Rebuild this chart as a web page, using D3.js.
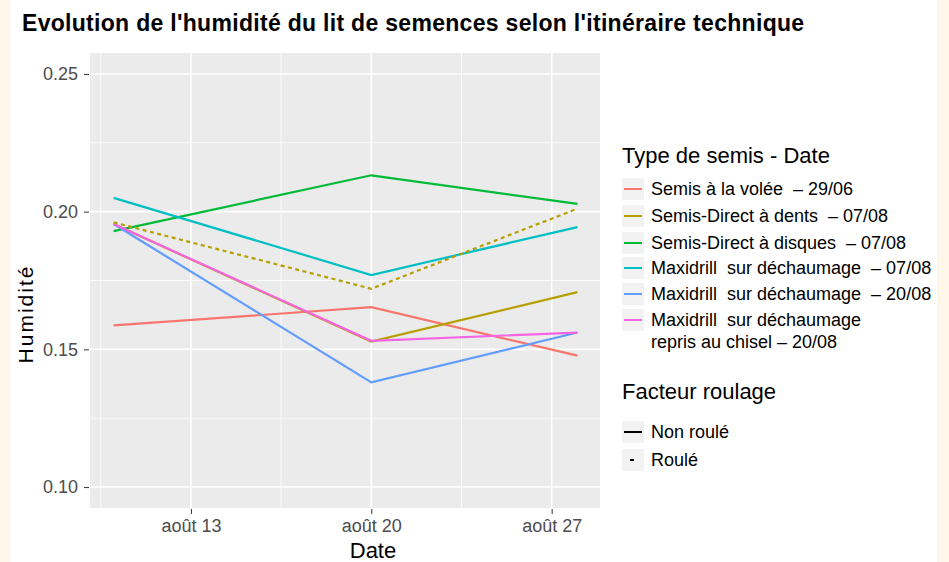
<!DOCTYPE html>
<html>
<head>
<meta charset="utf-8">
<script src="https://d3js.org/d3.v7.min.js"></script>
<style>
  body { margin: 0; background: #fff; }
  svg { display: block; font-family: "Liberation Sans", Arial, sans-serif; }
</style>
</head>
<body>
<svg></svg>
<script>
// data
var dates = ["2021-08-10", "2021-08-20", "2021-08-28"];
var seriesNames = [
  "Semis à la volée  – 29/06",
  "Semis-Direct à dents  – 07/08",
  "Semis-Direct à disques  – 07/08",
  "Maxidrill  sur déchaumage  – 07/08",
  "Maxidrill  sur déchaumage  – 20/08",
  "Maxidrill  sur déchaumage|repris au chisel – 20/08"
];
var colors = ["#F8766D", "#B79F00", "#00BA38", "#00BFC4", "#619CFF", "#F564E3"];
var volee   = [0.1587, 0.1653, 0.1477];
var dents   = [0.1955, 0.1528, 0.1708];
var disques = [0.1929, 0.2132, 0.2028];
var maxi0708 = [0.2050, 0.1770, 0.1944];
var maxi2008 = [0.1955, 0.1380, 0.1561];
var chisel  = [0.1955, 0.1531, 0.1561];
var dentsRoule = [0.1961, 0.1720, 0.2011];
var yTicks = [0.10, 0.15, 0.20, 0.25];
var xTicks = ["2021-08-13", "2021-08-20", "2021-08-27"];

var parse = d3.timeParse("%Y-%m-%d");

var lines = [
  { vals: volee, col: 0, roule: false },
  { vals: dents, col: 1, roule: false },
  { vals: disques, col: 2, roule: false },
  { vals: maxi0708, col: 3, roule: false },
  { vals: maxi2008, col: 4, roule: false },
  { vals: chisel, col: 5, roule: false },
  { vals: dentsRoule, col: 1, roule: true }
];

var width = 949, height = 562;
var svg = d3.select("svg").attr("width", width).attr("height", height);

// cream side strips
svg.append("rect").attr("x", 0).attr("y", 0).attr("width", 10).attr("height", height).attr("fill", "#fff8ea");
svg.append("rect").attr("x", 937).attr("y", 0).attr("width", 12).attr("height", height).attr("fill", "#fff8ea");

var panel = { left: 90, top: 53, right: 600, bottom: 508 };

var x = d3.scaleTime()
  .domain([d3.timeHour.offset(parse(dates[0]), -21.6), d3.timeHour.offset(parse(dates[2]), 21.6)])
  .range([panel.left, panel.right]);
var y = d3.scaleLinear()
  .domain([0.0924, 0.2576])
  .range([panel.bottom, panel.top]);

svg.append("rect")
  .attr("x", panel.left).attr("y", panel.top)
  .attr("width", panel.right - panel.left).attr("height", panel.bottom - panel.top)
  .attr("fill", "#ebebeb");

// minor grid
var yMinor = [0.125, 0.175, 0.225];
var xMinor = ["2021-08-09 12", "2021-08-16 12", "2021-08-23 12"].map(d3.timeParse("%Y-%m-%d %H"));
svg.selectAll(".ymin").data(yMinor).enter().append("line")
  .attr("x1", panel.left).attr("x2", panel.right)
  .attr("y1", function (d) { return y(d); }).attr("y2", function (d) { return y(d); })
  .attr("stroke", "#fff").attr("stroke-width", 0.8);
svg.selectAll(".xmin").data(xMinor).enter().append("line")
  .attr("y1", panel.top).attr("y2", panel.bottom)
  .attr("x1", function (d) { return x(d); }).attr("x2", function (d) { return x(d); })
  .attr("stroke", "#fff").attr("stroke-width", 0.8);
// major grid
svg.selectAll(".ymaj").data(yTicks).enter().append("line")
  .attr("x1", panel.left).attr("x2", panel.right)
  .attr("y1", function (d) { return y(d); }).attr("y2", function (d) { return y(d); })
  .attr("stroke", "#fff").attr("stroke-width", 1.6);
svg.selectAll(".xmaj").data(xTicks).enter().append("line")
  .attr("y1", panel.top).attr("y2", panel.bottom)
  .attr("x1", function (d) { return x(parse(d)); }).attr("x2", function (d) { return x(parse(d)); })
  .attr("stroke", "#fff").attr("stroke-width", 1.6);

// axes
var yAxis = d3.axisLeft(y).tickValues(yTicks).tickFormat(d3.format(".2f")).tickSize(5).tickPadding(6);
var gy = svg.append("g").attr("transform", "translate(" + (panel.left - 1) + ",0)").call(yAxis);
var xAxis = d3.axisBottom(x).tickValues(xTicks.map(parse))
  .tickFormat(function (d) { return "août " + d.getDate(); }).tickSize(5).tickPadding(5);
var gx = svg.append("g").attr("transform", "translate(0," + (panel.bottom + 1) + ")").call(xAxis);
[gx, gy].forEach(function (g) {
  g.select(".domain").remove();
  g.selectAll(".tick line").attr("stroke", "#333").attr("stroke-width", 1);
  g.selectAll(".tick text").attr("fill", "#4d4d4d").style("font-size", "18px").style("font-family", "Liberation Sans, Arial, sans-serif");
});

// lines
var line = d3.line()
  .x(function (d, i) { return x(parse(dates[i])); })
  .y(function (d) { return y(d); });
svg.selectAll(".serie").data(lines).enter().append("path")
  .attr("d", function (d) { return line(d.vals); })
  .attr("fill", "none")
  .attr("stroke", function (d) { return colors[d.col]; })
  .attr("stroke-width", 2.2)
  .attr("stroke-dasharray", function (d) { return d.roule ? "4,3.5" : null; });

// titles
svg.append("text").attr("x", 22).attr("y", 31)
  .style("font-size", "23px").style("font-weight", "bold").style("letter-spacing", "0.3px").attr("fill", "#000")
  .text("Evolution de l'humidité du lit de semences selon l'itinéraire technique");
svg.append("text").attr("x", 373).attr("y", 558).attr("text-anchor", "middle")
  .style("font-size", "22px").attr("fill", "#000").text("Date");
svg.append("text").attr("transform", "translate(33,314)rotate(-90)").attr("text-anchor", "middle")
  .style("font-size", "21px").style("letter-spacing", "2px").attr("fill", "#000").text("Humidité");

// legend
var lg = svg.append("g");
lg.append("text").attr("x", 622).attr("y", 163).style("font-size", "22px").text("Type de semis - Date");
var rowY = [189, 216, 243, 268, 294, 320];
seriesNames.forEach(function (name, i) {
  var cy = rowY[i];
  lg.append("rect").attr("x", 622).attr("y", cy - 11).attr("width", 22).attr("height", 22).attr("fill", "#f2f2f2");
  lg.append("line").attr("x1", 624).attr("x2", 642).attr("y1", cy).attr("y2", cy)
    .attr("stroke", colors[i]).attr("stroke-width", 2);
  var parts = name.split("|");
  parts.forEach(function (p, j) {
    lg.append("text").attr("x", 651).attr("y", cy + 6 + j * 22).style("font-size", "18px")
      .style("white-space", "pre").attr("xml:space", "preserve").text(p);
  });
});
lg.append("text").attr("x", 622).attr("y", 399).style("font-size", "22px").text("Facteur roulage");
var lt = [{ name: "Non roulé", dash: null, y: 432 }, { name: "Roulé", dash: "2,16", y: 460 }];
lt.forEach(function (d) {
  lg.append("rect").attr("x", 622).attr("y", d.y - 11).attr("width", 22).attr("height", 22).attr("fill", "#f2f2f2");
  lg.append("line").attr("x1", d.dash ? 630 : 624).attr("x2", d.dash ? 634 : 642).attr("y1", d.y).attr("y2", d.y)
    .attr("stroke", "#000").attr("stroke-width", 2);
  lg.append("text").attr("x", 651).attr("y", d.y + 6).style("font-size", "18px").text(d.name);
});
</script>
</body>
</html>
